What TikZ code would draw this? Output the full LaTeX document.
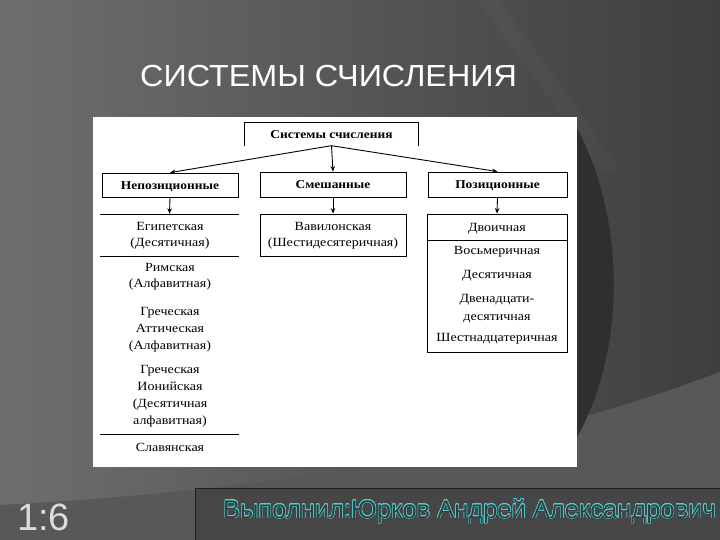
\documentclass[tikz,border=0pt]{standalone}
\usepackage{fontspec}
\setmainfont{Liberation Sans}
\newfontfamily\diag[FakeStretch=1.12]{Liberation Serif}
\newfontfamily\titlefont[FakeStretch=1.06]{Liberation Sans}
\usepackage[copies]{contour}
\contourlength{0.45pt}
\usetikzlibrary{arrows.meta}
\definecolor{bgL}{HTML}{6E6E6E}
\definecolor{bgR}{HTML}{3E3E3E}
\definecolor{bgLow}{HTML}{585858}
\definecolor{lens}{HTML}{2F2F2F}
\definecolor{footfill}{HTML}{464646}
\definecolor{footline}{HTML}{1E1E1E}
\definecolor{cyanline}{HTML}{4FD2D6}
\definecolor{cyanfill}{HTML}{353D3E}
\definecolor{numcol}{HTML}{DCDCDC}
\tikzset{
  dtext/.style={font=\diag\fontsize{12.5}{16}\selectfont, align=center, inner sep=0pt, text=black},
  hdr/.style={draw=black, line width=0.8pt, font=\diag\bfseries\fontsize{12}{14}\selectfont, inner sep=0pt, text=black, text height=10pt, text depth=1pt},
  box/.style={draw=black, line width=0.8pt, inner sep=0pt},
  sep/.style={draw=black, line width=0.8pt},
  arr/.style={draw=black, line width=0.9pt, -{Stealth[length=5.5pt,width=4.5pt]}}
}
\begin{document}
\begin{tikzpicture}[x=1pt,y=-1pt]
\useasboundingbox (0,0) rectangle (720,540);
% background
\fill[left color=bgL, right color=bgR] (0,0) rectangle (720,540);
\fill[bgLow] (0,505) .. controls (250,492) and (500,455) .. (720,372) -- (720,540) -- (0,540) -- cycle;
\fill[white, opacity=0.025] (478,0) -- (600,170) -- (620,170) -- (500,0) -- cycle;
\fill[lens] (577,128) .. controls (626,220) and (626,350) .. (577,437) -- cycle;
% panel
\fill[white] (93,117) rectangle (577,467);
% title
\node[anchor=base west, text=white, font=\titlefont\fontsize{30.5}{32}\selectfont, inner sep=0pt] (title) at (140,87) {СИСТЕМЫ СЧИСЛЕНИЯ};
% root
\node[font=\diag\bfseries\fontsize{12}{14}\selectfont, minimum width=173pt, minimum height=23pt, inner sep=0pt, text height=10pt, text depth=1pt] (root) at (331.5,134) {Системы счисления};
\draw[line width=0.8pt] (root.south west) -- (root.north west) -- (root.north east) -- (root.south east);
% headers
\node[hdr, minimum width=136pt, minimum height=24pt] (nonpos) at (170,185) {Непозиционные};
\node[hdr, minimum width=146pt, minimum height=25pt] (mixed) at (333,184.5) {Смешанные};
\node[hdr, minimum width=139pt, minimum height=25pt] (pos) at (497.5,184.5) {Позиционные};
\draw[arr] (root.south) -- (nonpos.north);
\draw[arr] (root.south) -- (mixed.north);
\draw[arr] (root.south) -- (pos.north);
% left column
\node[minimum width=139pt, minimum height=0pt, inner sep=0pt] (leftlist) at (169.5,214) {};
\draw[sep] (leftlist.west) -- (leftlist.east);
\draw[arr] (nonpos.south) -- (leftlist.north);
\node[dtext] (egypt) at (170,235.5) {Египетская\\(Десятичная)};
\coordinate (l2) at (100,256);
\coordinate (r2) at (239,256);
\draw[sep] (l2) -- (r2);
\node[dtext] (rome) at (170,277) {Римская\\(Алфавитная)};
\node[dtext, font=\diag\fontsize{12.5}{17}\selectfont] (attic) at (170,330) {Греческая\\Аттическая\\(Алфавитная)};
\node[dtext, font=\diag\fontsize{12.5}{17}\selectfont] (ionic) at (170,396) {Греческая\\Ионийская\\(Десятичная\\алфавитная)};
\coordinate (l3) at (100,434);
\coordinate (r3) at (239,434);
\draw[sep] (l3) -- (r3);
\node[dtext] (slav) at (170,447) {Славянская};
% middle
\node[box, minimum width=146pt, minimum height=42pt] (babbox) at (333,235) {};
\node[dtext] (bab) at (333,235.5) {Вавилонская\\(Шестидесятеричная)};
\draw[arr] (mixed.south) -- (babbox.north);
% right
\node[box, minimum width=140pt, minimum height=138pt] (posbox) at (497,283) {};
\draw[arr] (pos.south) -- (posbox.north);
\coordinate (pl) at (427,240);
\coordinate (pr) at (567,240);
\draw[sep] (pl) -- (pr);
\node[dtext] (bin) at (497,228.5) {Двоичная};
\node[dtext] (oct) at (497,252) {Восьмеричная};
\node[dtext] (dec) at (497,275.5) {Десятичная};
\node[dtext, font=\diag\fontsize{12.5}{18}\selectfont] (duo) at (497,309) {Двенадцати-\\десятичная};
\node[dtext] (hex) at (497,338.5) {Шестнадцатеричная};
% footer
\fill[footfill] (195,488) rectangle (721,541);
\draw[footline, line width=1pt] (195,541) -- (195,488) -- (721,488);
\node[anchor=base west, inner sep=0pt, font=\fontsize{25.5}{28}\selectfont] (author) at (223,518) {\contour{cyanline}{\textcolor{cyanfill}{Выполнил:Юрков Андрей Александрович}}};
\node[anchor=base west, inner sep=0pt, text=numcol, font=\fontsize{38}{40}\selectfont] (num) at (17,530) {1:6};
\end{tikzpicture}
\end{document}
